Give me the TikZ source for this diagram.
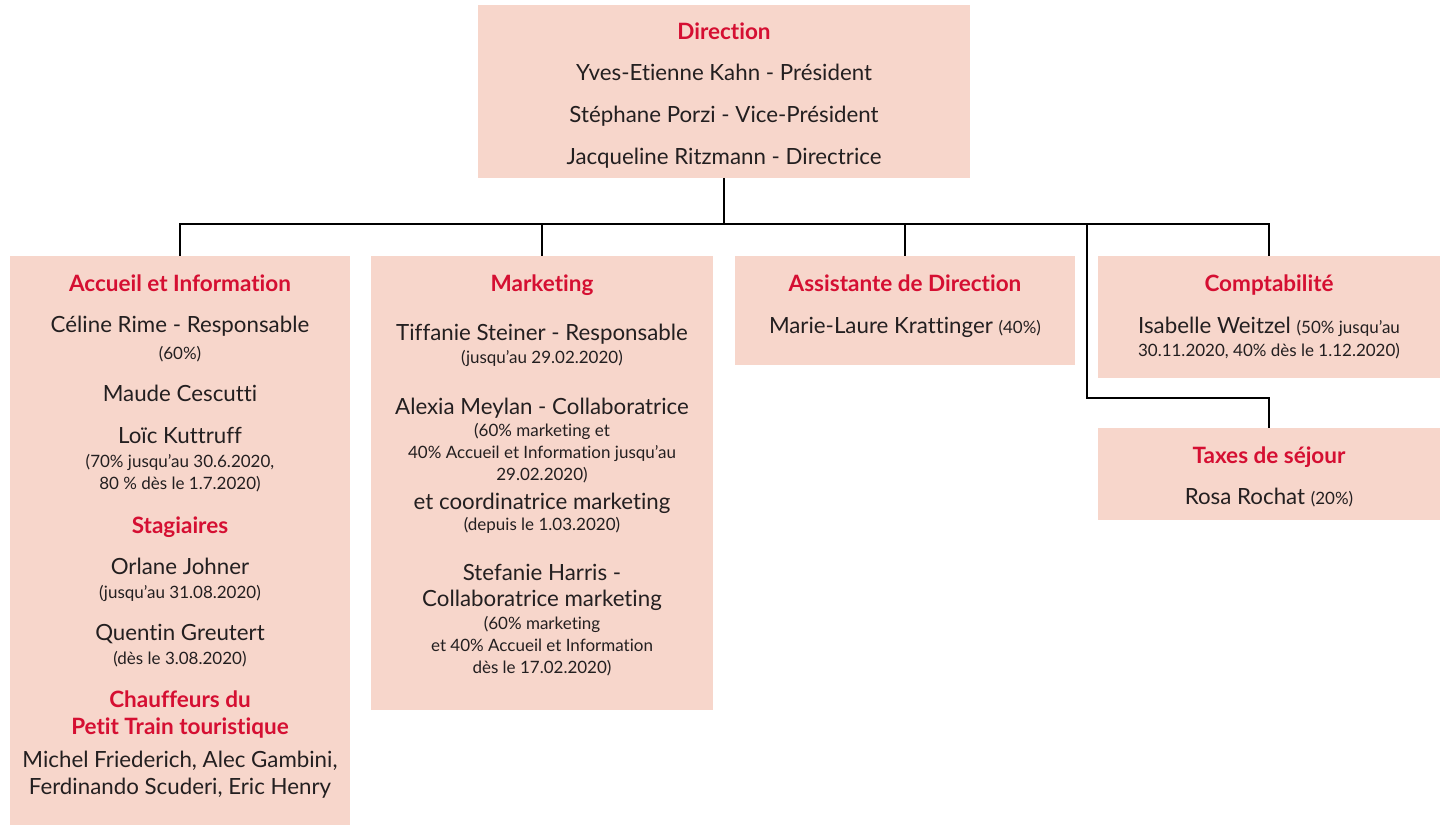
\documentclass[tikz,border=0pt]{standalone}
\usepackage{fontspec}
\setmainfont{Lato}[Ligatures=NoCommon]
\definecolor{boxfill}{HTML}{F7D6CB}
\definecolor{headred}{HTML}{D50F32}
\definecolor{txtblack}{HTML}{231F20}
\newcommand{\sml}{\fontsize{17}{20}\selectfont}
\begin{document}
\begin{tikzpicture}[x=1pt,y=-1pt,
  box/.style={fill=boxfill,draw=none,inner sep=0,outer sep=0},
  hd/.style={anchor=base,inner sep=0,text=headred,font=\fontsize{22.5}{26}\selectfont\bfseries},
  tx/.style={anchor=base,inner sep=0,text=txtblack,font=\fontsize{22.3}{26}\selectfont},
  st/.style={anchor=base,inner sep=0,text=txtblack,font=\fontsize{17}{20}\selectfont},
  conn/.style={draw=black,line width=2.5pt}]
\useasboundingbox (0,0) rectangle (1442,826);
% boxes
\node[box,minimum width=492,minimum height=173] (dir) at (724,91.5) {};
\node[box,minimum width=340,minimum height=569] (acc) at (180,540.5) {};
\node[box,minimum width=342,minimum height=454] (mkt) at (542,483) {};
\node[box,minimum width=340,minimum height=109] (ass) at (905,310.5) {};
\node[box,minimum width=342,minimum height=122] (comp) at (1269,317) {};
\node[box,minimum width=342,minimum height=92] (tax) at (1269,474) {};
% connectors
\coordinate (bus) at (724,224);
\coordinate (tj) at (1087,224);
\coordinate (tk) at (1087,398);
\draw[conn] (dir.south) -- (bus);
\draw[conn] (acc.north) |- (bus);
\draw[conn] (mkt.north) |- (bus);
\draw[conn] (ass.north) |- (bus);
\draw[conn] (comp.north) |- (bus);
\draw[conn] (tj) -- (tk) -| (tax.north);
% Direction
\node[hd] (d0) at (724,40) {Direction};
\node[tx] (d1) at (724,81) {Yves-Etienne Kahn - Président};
\node[tx] (d2) at (724,123) {Stéphane Porzi - Vice-Président};
\node[tx] (d3) at (724,165) {Jacqueline Ritzmann - Directrice};
% Accueil
\node[hd] (a0) at (180,291) {Accueil et Information};
\node[tx] (a1) at (180,332) {Céline Rime - Responsable};
\node[st] (a2) at (180,359) {(60\%)};
\node[tx] (a3) at (180,401) {Maude Cescutti};
\node[tx] (a4) at (180,443) {Loïc Kuttruff};
\node[st] (a5) at (180,467) {(70\% jusqu’au 30.6.2020,};
\node[st] (a6) at (180,489) {80 \% dès le 1.7.2020)};
\node[hd] (a7) at (180,533) {Stagiaires};
\node[tx] (a8) at (180,574) {Orlane Johner};
\node[st] (a9) at (180,598) {(jusqu’au 31.08.2020)};
\node[tx] (a10) at (180,640) {Quentin Greutert};
\node[st] (a11) at (180,664) {(dès le 3.08.2020)};
\node[hd] (a12) at (180,707) {Chauffeurs du};
\node[hd] (a13) at (180,734) {Petit Train touristique};
\node[tx] (a14) at (180,767) {Michel Friederich, Alec Gambini,};
\node[tx] (a15) at (180,794) {Ferdinando Scuderi, Eric Henry};
% Marketing
\node[hd] (m0) at (542,291) {Marketing};
\node[tx] (m1) at (542,340) {Tiffanie Steiner - Responsable};
\node[st] (m2) at (542,363) {(jusqu’au 29.02.2020)};
\node[tx] (m3) at (542,414) {Alexia Meylan - Collaboratrice};
\node[st] (m4) at (542,436) {(60\% marketing et};
\node[st] (m5) at (542,458) {40\% Accueil et Information jusqu’au};
\node[st] (m6) at (542,480) {29.02.2020)};
\node[tx] (m7) at (542,509) {et coordinatrice marketing};
\node[st] (m8) at (542,530) {(depuis le 1.03.2020)};
\node[tx] (m9) at (542,580) {Stefanie Harris -};
\node[tx] (m10) at (542,606) {Collaboratrice marketing};
\node[st] (m11) at (542,629) {(60\% marketing};
\node[st] (m12) at (542,651) {et 40\% Accueil et Information};
\node[st] (m13) at (542,673) {dès le 17.02.2020)};
% Assistante
\node[hd] (s0) at (905,291) {Assistante de Direction};
\node[tx] (s1) at (905,333) {Marie-Laure Krattinger {\sml(40\%)}};
% Comptabilite
\node[hd] (c0) at (1269,291) {Comptabilité};
\node[tx] (c1) at (1269,333) {Isabelle Weitzel {\sml(50\% jusqu’au}};
\node[st] (c2) at (1269,356) {30.11.2020, 40\% dès le 1.12.2020)};
% Taxes
\node[hd] (t0) at (1269,463) {Taxes de séjour};
\node[tx] (t1) at (1269,504) {Rosa Rochat {\sml(20\%)}};
\end{tikzpicture}
\end{document}
